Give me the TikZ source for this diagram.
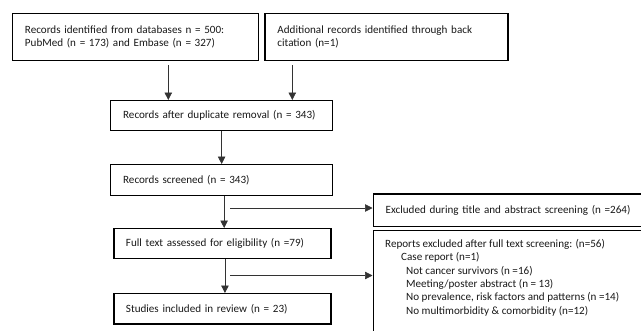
\documentclass[tikz,border=0pt]{standalone}
\usepackage{fontspec}
\setmainfont{Carlito}
\usetikzlibrary{arrows.meta}
\begin{document}
\begin{tikzpicture}[x=1pt,y=-1pt,
  box/.style={draw=black, line width=1.3pt, anchor=north west, inner ysep=0pt,
    align=left, font=\fontsize{11.1}{13.3}\selectfont, text=black!90},
  txt/.style={anchor=north west, inner sep=0pt, align=left,
    font=\fontsize{11.1}{13.3}\selectfont, text=black!90},
  arr/.style={-{Triangle[width=7.5pt,length=7.5pt]}, line width=0.7pt, draw=black!80}]
\clip (0,0) rectangle (641,330);
\fill[white] (0,0) rectangle (641,330);
% boxes
\node (b1) [box, minimum width=245.5pt, minimum height=47.3pt, text width=221pt, inner xsep=12.5pt] at (11.8,12.7)
  {Records identified from databases n = 500:\\PubMed (n = 173) and Embase (n = 327)};
\node (b2) [box, minimum width=243pt, minimum height=47.3pt, text width=218pt, inner xsep=12.5pt] at (264.3,12.7)
  {Additional records identified through back\\citation (n=1)};
\node (b3) [box, minimum width=221.7pt, minimum height=30pt, text width=197pt, inner xsep=12.5pt] at (110,100)
  {Records after duplicate removal (n = 343)};
\node (b4) [box, minimum width=221.7pt, minimum height=31pt, text width=197pt, inner xsep=12.5pt] at (110,164)
  {Records screened (n = 343)};
\node (b5) [box, minimum width=217pt, minimum height=30pt, text width=193pt, inner xsep=12pt] at (113.3,228)
  {Full text assessed for eligibility (n =79)};
\node (b6) [box, minimum width=217pt, minimum height=30.3pt, text width=193pt, inner xsep=12pt] at (113.3,293)
  {Studies included in review (n = 23)};
\node (b7) [box, minimum width=300pt, minimum height=32.7pt, text width=276pt, inner xsep=12.5pt] at (372.5,193.3)
  {Excluded during title and abstract screening (n =264)};
\node (b8) [box, minimum width=300pt, minimum height=120pt] at (372.5,230) {};
\node (t8) [txt] at (385,239.3)
  {Reports excluded after full text screening: (n=56)\\
   \hspace*{16pt}Case report (n=1)\\
   \hspace*{21pt}Not cancer survivors (n =16)\\
   \hspace*{21pt}Meeting/poster abstract (n = 13)\\
   \hspace*{21pt}No prevalence, risk factors and patterns (n =14)\\
   \hspace*{21pt}No multimorbidity \& comorbidity (n=12)};
% connectors
\coordinate (s1) at (168.3,65);
\coordinate (s2) at (292.3,65);
\coordinate (h1) at (230,208);
\coordinate (h2) at (230,275.5);
\draw[arr] (s1) -- (s1 |- b3.north);
\draw[arr] (s2) -- (s2 |- b3.north);
\draw[arr] (b3.south) -- (b3.south |- b4.north);
\draw[arr] ([xshift=2.5pt]b4.south) -- ([xshift=2.5pt]b4.south |- b5.north);
\draw[arr] ([xshift=2.5pt]b5.south) -- ([xshift=2.5pt]b5.south |- b6.north);
\draw[arr] (h1) -- (h1 -| b7.west);
\draw[arr] (h2) -- (h2 -| b8.west);
\end{tikzpicture}
\end{document}
